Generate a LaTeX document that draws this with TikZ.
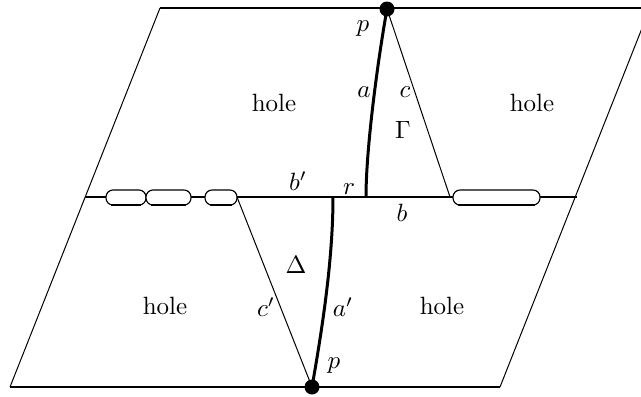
\documentclass[tikz,border=0pt]{standalone}
\usepackage{amsmath,amssymb}
\usepackage{tikz}
\usetikzlibrary{positioning,calc}

\begin{document}
\begin{tikzpicture}[
    x=0.4pt, y=-0.4pt,
    edge/.style={line width=0.8pt},
    side/.style={line width=0.4pt},
    geod/.style={line width=1.2pt},
    dot/.style={circle, fill=black, inner sep=0pt, minimum size=6pt},
    pill/.style={draw, fill=white, rectangle, rounded corners=2.8pt, minimum height=6pt, inner sep=0pt, line width=0.45pt},
    lbl/.style={inner sep=1pt}
]
    \useasboundingbox (0,0) rectangle (641,396);
    \clip (0,0) rectangle (641,396);

    % Corners of the parallelogram
    \coordinate (tl) at (160,8);
    \coordinate (tr) at (650,8);
    \coordinate (bl) at (10,387);
    \coordinate (br) at (500,387);
    \coordinate (ml) at (85,197);
    \coordinate (mr) at (577,197);

    % Outline and middle line
    \draw [edge] (tl) -- (tr);
    \draw [edge] (bl) -- (br);
    \draw [side] (tl) -- (bl);
    \draw [side] (tr) -- (br);
    \draw [edge] (ml) -- (mr);

    % Pills on the middle line
    \node [pill, minimum width=16pt] (pa) at (126,197.5) {};
    \node [pill, minimum width=18pt] (pb) at (168.5,197.5) {};
    \node [pill, minimum width=12.8pt] (pc) at (221,197.5) {};
    \node [pill, minimum width=34.8pt] (pd) at (496.5,197.5) {};
    \foreach \n in {pa,pb,pc,pd}
        \draw [line width=0.9pt] ([xshift=2.4pt,yshift=0.2pt]\n.south west) -- ([xshift=-2.4pt,yshift=0.2pt]\n.south east);

    % Points
    \node [dot] (ptop) at (387,9) {};
    \node [dot] (pbot) at (312,387) {};
    \coordinate (r) at (366,197);
    \coordinate (rp) at (333,197);
    \coordinate (cend) at (450,197);
    \coordinate (cpend) at (237,197);

    % Triangles
    \draw [geod] (ptop.center) .. controls (377,65) and (366,150) .. (r);
    \draw [side] (ptop.center) -- (cend);
    \draw [geod] (rp) .. controls (333,260) and (322,330) .. (pbot.center);
    \draw [side] (cpend) -- (pbot.center);

    % Labels
    \node [lbl] (lpt) at (363,29) {$p$};
    \node [lbl] (la) at (364,92) {$a$};
    \node [lbl] (lc) at (405,92) {$c$};
    \node [lbl] (lgam) at (403,130) {$\Gamma$};
    \node [lbl] (h1) at (274,103) {hole};
    \node [lbl] (h2) at (532,103) {hole};
    \node [lbl] (lbp) at (298,181) {$b'$};
    \node [lbl] (lr) at (349,189) {$r$};
    \node [lbl] (lb) at (402,213) {$b$};
    \node [lbl] (ldel) at (296,265) {$\Delta$};
    \node [lbl] (h3) at (165,306) {hole};
    \node [lbl] (lcp) at (266,307) {$c'$};
    \node [lbl] (lap) at (343,307) {$a'$};
    \node [lbl] (h4) at (442,306) {hole};
    \node [lbl] (lpb) at (334,366) {$p$};

\end{tikzpicture}
\end{document}
